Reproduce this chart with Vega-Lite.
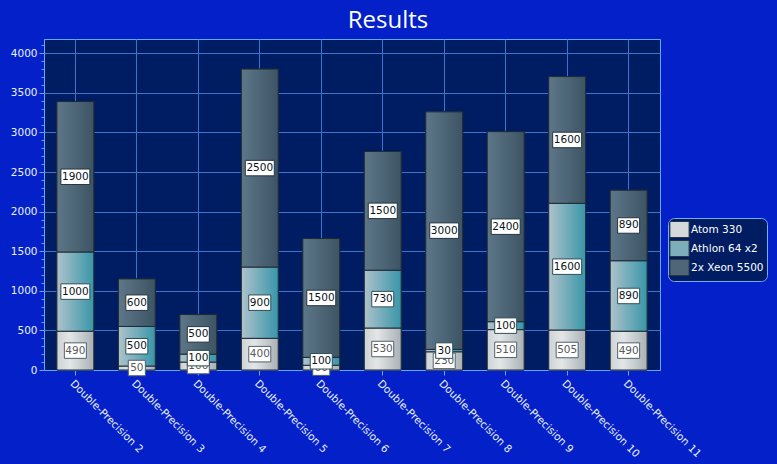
{
  "$schema": "https://vega.github.io/schema/vega-lite/v6.json",
  "width": 616,
  "height": 331,
  "autosize": "none",
  "padding": {"left": 44, "top": 39, "right": 117, "bottom": 94},
  "background": "#0420c8",
  "title": {"text": "Results", "color": "white", "fontSize": 24, "font": "Open Sans", "fontWeight": "normal", "anchor": "middle", "dx": 36, "offset": 6},
  "config": {
    "view": {"fill": "#001c62", "stroke": "#60a8f0", "strokeWidth": 1},
    "axis": {"labelFont": "DejaVu Sans", "labelFontSize": 10.5, "labelColor": "#e8f0ff", "domainColor": "#60a8f0", "tickColor": "#60a8f0", "gridColor": "#3a76cc", "gridOpacity": 1, "gridWidth": 1, "title": null}
  },
  "data": {"values": [
    {"cat": "Double-Precision 2", "series": "Atom 330", "value": 490},
    {"cat": "Double-Precision 2", "series": "Athlon 64 x2", "value": 1000},
    {"cat": "Double-Precision 2", "series": "2x Xeon 5500", "value": 1900},
    {"cat": "Double-Precision 3", "series": "Atom 330", "value": 50},
    {"cat": "Double-Precision 3", "series": "Athlon 64 x2", "value": 500},
    {"cat": "Double-Precision 3", "series": "2x Xeon 5500", "value": 600},
    {"cat": "Double-Precision 4", "series": "Atom 330", "value": 100},
    {"cat": "Double-Precision 4", "series": "Athlon 64 x2", "value": 100},
    {"cat": "Double-Precision 4", "series": "2x Xeon 5500", "value": 500},
    {"cat": "Double-Precision 5", "series": "Atom 330", "value": 400},
    {"cat": "Double-Precision 5", "series": "Athlon 64 x2", "value": 900},
    {"cat": "Double-Precision 5", "series": "2x Xeon 5500", "value": 2500},
    {"cat": "Double-Precision 6", "series": "Atom 330", "value": 60},
    {"cat": "Double-Precision 6", "series": "Athlon 64 x2", "value": 100},
    {"cat": "Double-Precision 6", "series": "2x Xeon 5500", "value": 1500},
    {"cat": "Double-Precision 7", "series": "Atom 330", "value": 530},
    {"cat": "Double-Precision 7", "series": "Athlon 64 x2", "value": 730},
    {"cat": "Double-Precision 7", "series": "2x Xeon 5500", "value": 1500},
    {"cat": "Double-Precision 8", "series": "Atom 330", "value": 230},
    {"cat": "Double-Precision 8", "series": "Athlon 64 x2", "value": 30},
    {"cat": "Double-Precision 8", "series": "2x Xeon 5500", "value": 3000},
    {"cat": "Double-Precision 9", "series": "Atom 330", "value": 510},
    {"cat": "Double-Precision 9", "series": "Athlon 64 x2", "value": 100},
    {"cat": "Double-Precision 9", "series": "2x Xeon 5500", "value": 2400},
    {"cat": "Double-Precision 10", "series": "Atom 330", "value": 505},
    {"cat": "Double-Precision 10", "series": "Athlon 64 x2", "value": 1600},
    {"cat": "Double-Precision 10", "series": "2x Xeon 5500", "value": 1600},
    {"cat": "Double-Precision 11", "series": "Atom 330", "value": 490},
    {"cat": "Double-Precision 11", "series": "Athlon 64 x2", "value": 890},
    {"cat": "Double-Precision 11", "series": "2x Xeon 5500", "value": 890}
  ]},
  "transform": [
    {"stack": "value", "groupby": ["cat"], "sort": [{"field": "series", "order": "descending"}], "as": ["y0", "y1"]},
    {"fold": ["y0", "y1"], "as": ["edge", "pos"]},
    {"aggregate": [{"op": "mean", "field": "pos", "as": "mid"}, {"op": "min", "field": "pos", "as": "lo"}, {"op": "max", "field": "pos", "as": "hi"}], "groupby": ["cat", "series", "value"]}
  ],
  "encoding": {
    "x": {
      "field": "cat", "type": "nominal",
      "sort": ["Double-Precision 2", "Double-Precision 3", "Double-Precision 4", "Double-Precision 5", "Double-Precision 6", "Double-Precision 7", "Double-Precision 8", "Double-Precision 9", "Double-Precision 10", "Double-Precision 11"],
      "scale": {"paddingInner": 0.4, "paddingOuter": 0.21},
      "axis": {"labelAngle": 45, "labelAlign": "left", "labelBaseline": "top", "tickSize": 5, "grid": true, "bandPosition": 0.5, "labelPadding": 3, "domainColor": "#60a8f0"}
    }
  },
  "resolve": {"axis": {"y": "independent"}},
  "layer": [
    {
      "mark": {"type": "bar", "stroke": "#1e2a36", "strokeWidth": 1},
      "encoding": {
        "y": {"field": "lo", "type": "quantitative", "scale": {"domain": [0, 4180], "nice": false},
          "axis": {"orient": "left", "values": [0, 500, 1000, 1500, 2000, 2500, 3000, 3500, 4000], "format": "d", "tickSize": 5, "grid": true, "labelPadding": 2}},
        "y2": {"field": "hi"},
        "color": {"field": "series", "type": "nominal",
          "scale": {"domain": ["Atom 330", "Athlon 64 x2", "2x Xeon 5500"], "range": ["#d4d9db", "#7eaebb", "#4e6677"]},
          "legend": {"orient": "none", "legendX": 624, "legendY": 179, "title": null, "fillColor": "#001c62", "strokeColor": "#70b0f0", "cornerRadius": 6, "padding": 3, "symbolType": "M-1.2,-1H1.2V1H-1.2Z", "symbolSize": 256, "symbolStrokeColor": "#2a3440", "symbolStrokeWidth": 1, "symbolOpacity": 1, "labelColor": "white", "labelFont": "DejaVu Sans", "labelFontSize": 10.5, "rowPadding": -5, "labelOffset": 3}}
      }
    },
    {
      "transform": [{"filter": "datum.series === 'Atom 330'"}],
      "mark": {"type": "bar", "stroke": "#1e2a36", "strokeWidth": 1,
        "color": {"gradient": "linear", "x1": 0, "y1": 0, "x2": 1, "y2": 0, "stops": [{"offset": 0, "color": "#cdd2d4"}, {"offset": 0.35, "color": "#e3e6e7"}, {"offset": 1, "color": "#a9b1b5"}]}},
      "encoding": {
        "y": {"field": "lo", "type": "quantitative",
          "axis": {"orient": "left", "values": [100, 200, 300, 400, 600, 700, 800, 900, 1100, 1200, 1300, 1400, 1600, 1700, 1800, 1900, 2100, 2200, 2300, 2400, 2600, 2700, 2800, 2900, 3100, 3200, 3300, 3400, 3600, 3700, 3800, 3900, 4100], "tickSize": 3, "labels": false, "domain": false, "grid": false}},
        "y2": {"field": "hi"}
      }
    },
    {
      "transform": [{"filter": "datum.series === 'Athlon 64 x2'"}],
      "mark": {"type": "bar", "stroke": "#1e2a36", "strokeWidth": 1,
        "color": {"gradient": "linear", "x1": 0, "y1": 0, "x2": 1, "y2": 0, "stops": [{"offset": 0, "color": "#aec2cb"}, {"offset": 1, "color": "#3896a9"}]}},
      "encoding": {"y": {"field": "lo", "type": "quantitative", "axis": null}, "y2": {"field": "hi"}}
    },
    {
      "transform": [{"filter": "datum.series === '2x Xeon 5500'"}],
      "mark": {"type": "bar", "stroke": "#1e2a36", "strokeWidth": 1,
        "color": {"gradient": "linear", "x1": 0, "y1": 0, "x2": 1, "y2": 0, "stops": [{"offset": 0, "color": "#5e7788"}, {"offset": 1, "color": "#3c5464"}]}},
      "encoding": {"y": {"field": "lo", "type": "quantitative", "axis": null}, "y2": {"field": "hi"}}
    },
    {
      "transform": [{"filter": "datum.series === 'Atom 330'"}],
      "mark": {"type": "point", "filled": true, "fill": "white", "stroke": "#50606a", "strokeWidth": 1, "opacity": 1, "size": 240},
      "encoding": {"y": {"field": "mid", "type": "quantitative", "axis": null},
        "shape": {"condition": [{"test": "datum.value >= 1000", "value": "M-1.87,-1H1.87V1H-1.87Z"}, {"test": "datum.value < 100", "value": "M-1.1,-1H1.1V1H-1.1Z"}], "value": "M-1.42,-1H1.42V1H-1.42Z"}}
    },
    {
      "transform": [{"filter": "datum.series === 'Atom 330'"}],
      "mark": {"type": "text", "font": "DejaVu Sans", "fontSize": 10.5, "color": "#5a5a5a", "baseline": "middle", "align": "center"},
      "encoding": {"y": {"field": "mid", "type": "quantitative", "axis": null}, "text": {"field": "value", "type": "quantitative"}}
    },
    {
      "transform": [{"filter": "datum.series === 'Athlon 64 x2'"}],
      "mark": {"type": "point", "filled": true, "fill": "white", "stroke": "#2f4e58", "strokeWidth": 1, "opacity": 1, "size": 240},
      "encoding": {"y": {"field": "mid", "type": "quantitative", "axis": null},
        "shape": {"condition": [{"test": "datum.value >= 1000", "value": "M-1.87,-1H1.87V1H-1.87Z"}, {"test": "datum.value < 100", "value": "M-1.1,-1H1.1V1H-1.1Z"}], "value": "M-1.42,-1H1.42V1H-1.42Z"}}
    },
    {
      "transform": [{"filter": "datum.series === 'Athlon 64 x2'"}],
      "mark": {"type": "text", "font": "DejaVu Sans", "fontSize": 10.5, "color": "#0a1420", "baseline": "middle", "align": "center"},
      "encoding": {"y": {"field": "mid", "type": "quantitative", "axis": null}, "text": {"field": "value", "type": "quantitative"}}
    },
    {
      "transform": [{"filter": "datum.series === '2x Xeon 5500'"}],
      "mark": {"type": "point", "filled": true, "fill": "white", "stroke": "#253440", "strokeWidth": 1, "opacity": 1, "size": 240},
      "encoding": {"y": {"field": "mid", "type": "quantitative", "axis": null},
        "shape": {"condition": [{"test": "datum.value >= 1000", "value": "M-1.87,-1H1.87V1H-1.87Z"}, {"test": "datum.value < 100", "value": "M-1.1,-1H1.1V1H-1.1Z"}], "value": "M-1.42,-1H1.42V1H-1.42Z"}}
    },
    {
      "transform": [{"filter": "datum.series === '2x Xeon 5500'"}],
      "mark": {"type": "text", "font": "DejaVu Sans", "fontSize": 10.5, "color": "#0a1420", "baseline": "middle", "align": "center"},
      "encoding": {"y": {"field": "mid", "type": "quantitative", "axis": null}, "text": {"field": "value", "type": "quantitative"}}
    }
  ]
}
